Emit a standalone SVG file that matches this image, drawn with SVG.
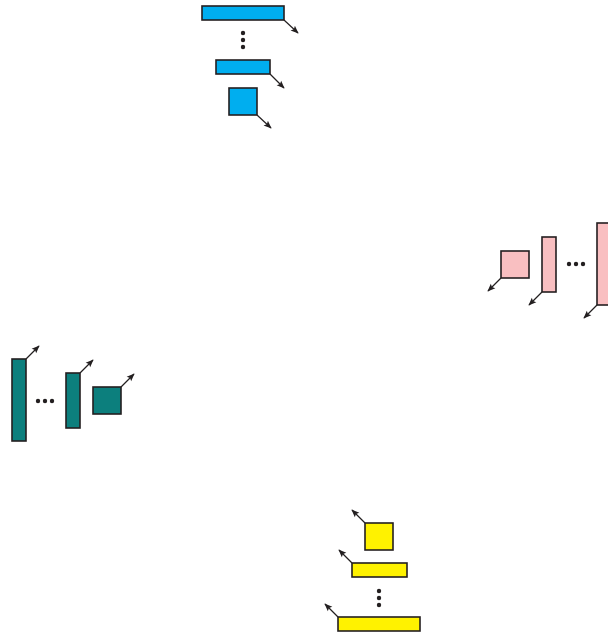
<svg xmlns="http://www.w3.org/2000/svg" width="608" height="637" viewBox="0 0 608 637">
<defs>
<marker id="ah" viewBox="0 0 10 10" refX="9" refY="5" markerWidth="8" markerHeight="8" markerUnits="userSpaceOnUse" orient="auto">
<path d="M0,1 L10,5 L0,9 L2,5 Z" fill="#231f20"/>
</marker>
</defs>
<style>
rect{stroke:#231f20;stroke-width:1.6}
.b{fill:#00aeef}.p{fill:#f9bfc1}.t{fill:#0c7f7d}.y{fill:#fff200}
.c line{stroke:#231f20;stroke-width:1.2;marker-end:url(#ah)}
.d{fill:#231f20}
</style>
<rect width="608" height="637" fill="#fff" style="stroke:none"/>
<g id="blue">
<rect class="b" x="202" y="6" width="82" height="14"/>
<circle class="d" cx="243" cy="33" r="2.2"/><circle class="d" cx="243" cy="40" r="2.2"/><circle class="d" cx="243" cy="47" r="2.2"/>
<rect class="b" x="216" y="60" width="54" height="14"/>
<rect class="b" x="229" y="88" width="28" height="27"/>
</g>
<g id="pink">
<rect class="p" x="501" y="251" width="28" height="27"/>
<rect class="p" x="542" y="237" width="14" height="55"/>
<circle class="d" cx="569" cy="264" r="2.2"/><circle class="d" cx="576" cy="264" r="2.2"/><circle class="d" cx="583" cy="264" r="2.2"/>
<rect class="p" x="597" y="223" width="14" height="82"/>
</g>
<g id="teal">
<rect class="t" x="12" y="359" width="14" height="82"/>
<circle class="d" cx="38" cy="401" r="2.2"/><circle class="d" cx="45" cy="401" r="2.2"/><circle class="d" cx="52" cy="401" r="2.2"/>
<rect class="t" x="66" y="373" width="14" height="55"/>
<rect class="t" x="93" y="387" width="28" height="27"/>
</g>
<g id="yellow">
<rect class="y" x="365" y="523" width="28" height="27"/>
<rect class="y" x="352" y="563" width="55" height="14"/>
<circle class="d" cx="379" cy="591" r="2.2"/><circle class="d" cx="379" cy="598" r="2.2"/><circle class="d" cx="379" cy="605" r="2.2"/>
<rect class="y" x="338" y="617" width="82" height="14"/>
</g>
<g id="connectors" class="c">
<line x1="284" y1="20" x2="298" y2="33"/>
<line x1="270" y1="74" x2="284" y2="88"/>
<line x1="257" y1="115" x2="271" y2="128"/>
<line x1="501" y1="278" x2="488" y2="291"/>
<line x1="542" y1="292" x2="529" y2="305"/>
<line x1="597" y1="305" x2="584" y2="318"/>
<line x1="26" y1="359" x2="39" y2="346"/>
<line x1="80" y1="373" x2="93" y2="360"/>
<line x1="121" y1="387" x2="134" y2="374"/>
<line x1="365" y1="523" x2="352" y2="510"/>
<line x1="352" y1="563" x2="339" y2="550"/>
<line x1="338" y1="617" x2="325" y2="604"/>
</g>
</svg>
